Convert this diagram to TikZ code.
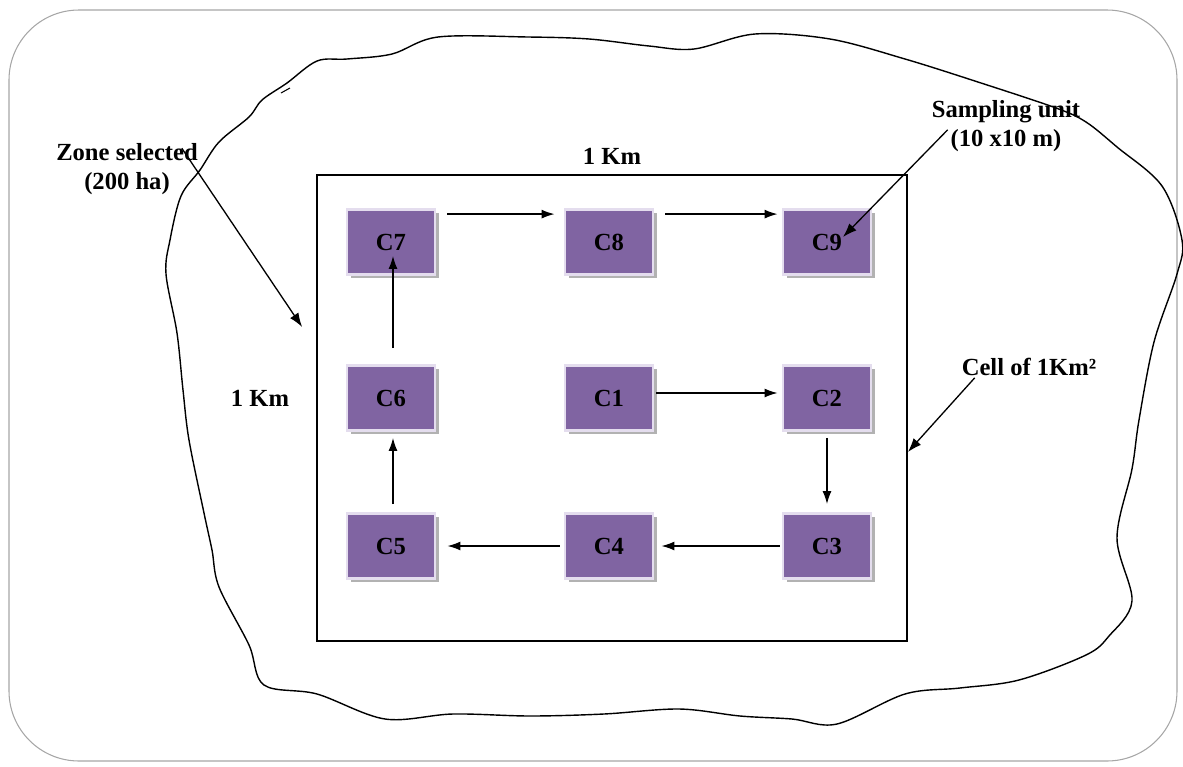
\documentclass[tikz,border=0pt]{standalone}
\usepackage{fontspec}
\setmainfont{Liberation Serif}
\usetikzlibrary{arrows.meta,shadows}
\definecolor{cellFill}{HTML}{8064A2}
\definecolor{cellRim}{HTML}{E4DDEE}
\definecolor{frameEdge}{HTML}{A6A6A6}
\newcommand{\PlotFont}{\fontsize{14}{16.5}\selectfont\bfseries}

\begin{document}
\begin{tikzpicture}[
  x=0.2mm, y=-0.2mm,
  font=\PlotFont,
  cell/.style  = {fill=cellFill, draw=cellRim, line width=1.6pt, minimum width=17.6mm,
                  minimum height=13mm, inner sep=0pt,
                  drop shadow={shadow xshift=0.7mm, shadow yshift=-0.7mm, fill=black!30, opacity=1}},
  lbl/.style   = {align=center, inner sep=1pt},
  flow/.style  = {-{Latex[length=2.6mm,width=1.8mm]}, line width=0.85pt},
  note/.style  = {-{Latex[length=2.8mm,width=2mm]}, line width=0.75pt},
]
\useasboundingbox (0,0) rectangle (1183,767);

% ---------------------------------------------------------------- frame and zone
\draw[frameEdge, line width=0.6pt, rounded corners=14mm] (9,10) rectangle (1177,761);

\draw[line width=0.8pt] plot[smooth cycle, tension=0.55] coordinates {
  (317,61) (287,83) (262,100) (249,117) (219,142) (200,170) (181,196) (170,240)
  (166,274) (177,333) (183,390) (189,440) (204,513) (212,550) (219,587) (249,645)
  (264,685) (317,694) (385,719) (453,714) (530,716) (604,714) (679,709) (740,716)
  (792,719) (837,724) (905,694) (960,688) (1019,680) (1086,655) (1109,636)
  (1132,601) (1117,538) (1132,469) (1139,420) (1154,342) (1177,274) (1182,240)
  (1162,186) (1117,147) (1086,122) (1056,108) (981,83) (905,59) (830,39) (755,34)
  (694,49) (649,46) (589,39) (528,37) (438,37) (392,54) (347,59)};
\draw[line width=0.6pt] (281,93) -- (290,88);

% ---------------------------------------------------------------- the 1 km cell
\node[draw, line width=1pt, minimum width=118mm, minimum height=93.2mm, inner sep=0pt]
  (cell) at (612,408) {};

\node[lbl] (kmTop)  at (612,156) {1 Km};
\node[lbl] (kmLeft) at (260,398) {1 Km};

% sampling units, three rows of three
\node[cell] (c7) at (391,242) {C7};
\node[cell] (c8) at (609,242) {C8};
\node[cell] (c9) at (827,242) {C9};
\node[cell] (c6) at (391,398) {C6};
\node[cell] (c1) at (609,398) {C1};
\node[cell] (c2) at (827,398) {C2};
\node[cell] (c5) at (391,546) {C5};
\node[cell] (c4) at (609,546) {C4};
\node[cell] (c3) at (827,546) {C3};

% visiting order C1 -> C9
\draw[flow] ([xshift=0.4mm, yshift=1mm]c1.east) -- ([xshift=-0.8mm, yshift=1mm]c2.west);
\draw[flow] ([yshift=-1.2mm]c2.south) -- ([yshift=1.6mm]c3.north);
\draw[flow] ([xshift=-0.4mm]c3.west) -- ([xshift=1.4mm]c4.east);
\draw[flow] ([xshift=-0.8mm]c4.west) -- ([xshift=2.2mm]c5.east);
\draw[flow] ([xshift=0.4mm, yshift=1.6mm]c5.north) -- ([xshift=0.4mm, yshift=-1.2mm]c6.south);
\draw[flow] ([xshift=0.4mm, yshift=3.2mm]c6.north) -- ([xshift=0.4mm, yshift=4mm]c7.south);
\draw[flow] ([xshift=2.2mm, yshift=-1.2mm]c7.north east) -- ([xshift=-1.8mm, yshift=-1.2mm]c8.north west);
\draw[flow] ([xshift=2.2mm, yshift=-1.2mm]c8.north east) -- ([xshift=-0.8mm, yshift=-1.2mm]c9.north west);

% ---------------------------------------------------------------- annotations
\node[lbl] (zone)   at (127,169)  {Zone selected\\(200 ha)};
\node[lbl] (unit)   at (1006,126) {Sampling unit\\(10 x10 m)};
\node[lbl] (cellKm) at (1029,367) {Cell of 1Km²};

\coordinate (zoneTip) at ([xshift=-2.8mm, yshift=16.2mm]cell.west);
\draw[note] ([xshift=-3.6mm, yshift=-1.4mm]zone.north east) -- (zoneTip);
\draw[note] ([xshift=3.6mm, yshift=4.8mm]unit.south west) -- ([xshift=3.2mm, yshift=1mm]c9.center);
\draw[note] ([xshift=3mm]cellKm.south west) -- ([yshift=-8.8mm]cell.east);

\end{tikzpicture}
\end{document}
